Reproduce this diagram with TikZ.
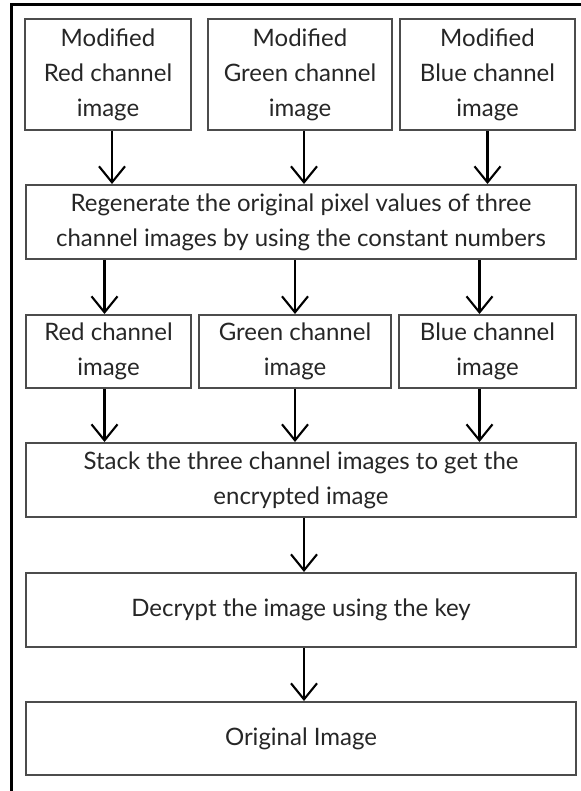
\documentclass[tikz,border=0pt]{standalone}
\usepackage{fontspec}
\setmainfont{Lato}
\usetikzlibrary{arrows.meta}

\tikzset{
    box/.style={draw=black!70, line width=1pt, rectangle, align=center, inner sep=2pt,
        text=black!85, font=\fontsize{12}{17.5}\selectfont},
    flow/.style={draw=black, line width=1.05pt, -{Straight Barb[length=8pt,width=13pt]}}
}

\begin{document}
\begin{tikzpicture}[x=0.5pt, y=-0.5pt]
    \useasboundingbox (0,0) rectangle (581,791);
    \draw[line width=1.5pt] (11,791) -- (11,5) -- (581,5);

    % Define nodes
    \node[box, minimum width=83pt, minimum height=55.5pt] at (108,74.5) (mod red) {Modified\\Red channel\\image};
    \node[box, minimum width=92pt, minimum height=55.5pt] at (300,74.5) (mod green) {Modified\\Green channel\\image};
    \node[box, minimum width=87.5pt, minimum height=55.5pt] at (487.5,74.5) (mod blue) {Modified\\Blue channel\\image};
    \node[box, minimum width=275pt, minimum height=37pt] at (301,222) (regen) {Regenerate the original pixel values of three\\channel images by using the constant numbers};
    \node[box, minimum width=82.5pt, minimum height=36.5pt] at (108.5,351.5) (red) {Red channel\\image};
    \node[box, minimum width=96pt, minimum height=36.5pt] at (295,351.5) (green) {Green channel\\image};
    \node[box, minimum width=88.5pt, minimum height=36.5pt] at (487.5,351.5) (blue) {Blue channel\\image};
    \node[box, minimum width=275pt, minimum height=37pt] at (301,480) (stack) {Stack the three channel images to get the\\encrypted image};
    \node[box, minimum width=275pt, minimum height=37pt] at (301,610) (decrypt) {Decrypt the image using the key};
    \node[box, minimum width=275pt, minimum height=36.5pt] at (301,738.5) (original) {Original Image};

    % Draw arrows
    \draw[flow] ([xshift=2pt]mod red.south) -- ([xshift=2pt]mod red.south |- regen.north);
    \draw[flow] ([xshift=2pt]mod green.south) -- ([xshift=2pt]mod green.south |- regen.north);
    \draw[flow] (mod blue.south) -- (mod blue.south |- regen.north);
    \draw[flow] ([xshift=-2pt]red.north |- regen.south) -- ([xshift=-2pt]red.north);
    \draw[flow] (regen.south -| green.north) -- (green.north);
    \draw[flow] ([xshift=-4pt]blue.north |- regen.south) -- ([xshift=-4pt]blue.north);
    \draw[flow] ([xshift=-2pt]red.south) -- ([xshift=-2pt]red.south |- stack.north);
    \draw[flow] (green.south) -- (green.south |- stack.north);
    \draw[flow] ([xshift=-4pt]blue.south) -- ([xshift=-4pt]blue.south |- stack.north);
    \draw[flow] ([xshift=1.5pt]stack.south) -- ([xshift=1.5pt]decrypt.north);
    \draw[flow] ([xshift=1.5pt]decrypt.south) -- ([xshift=1.5pt]original.north);
\end{tikzpicture}
\end{document}
